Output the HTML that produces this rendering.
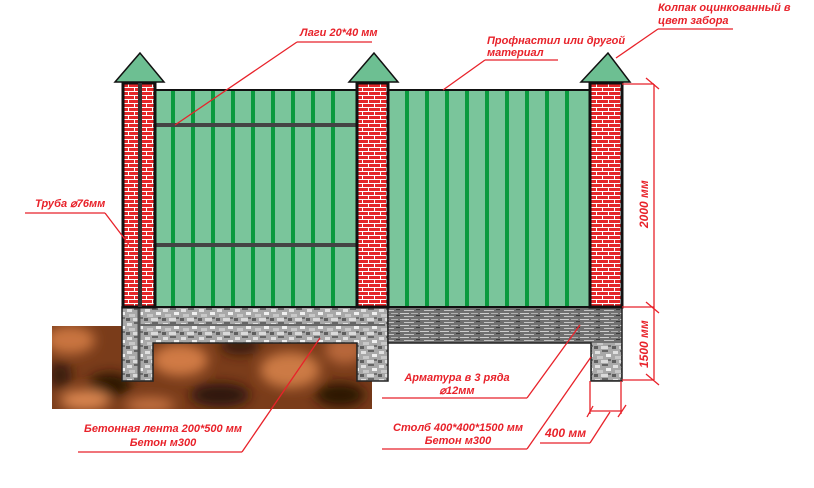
<!DOCTYPE html>
<html><head><meta charset="utf-8"><style>
html,body{margin:0;padding:0;background:#fff;width:814px;height:488px;overflow:hidden}
text{font-family:"Liberation Sans",sans-serif;font-style:italic;font-weight:bold;fill:#e8222a;font-size:11px}
</style></head><body>
<svg width="814" height="488" viewBox="0 0 814 488" xmlns="http://www.w3.org/2000/svg">
<defs>
<pattern id="brick" width="12" height="8" patternUnits="userSpaceOnUse">
<rect width="12" height="8" fill="#e4282a"/>
<rect y="3" width="12" height="1" fill="#fff"/>
<rect y="7" width="12" height="1" fill="#fff"/>
<rect x="2" y="0" width="1" height="3" fill="#fff"/>
<rect x="8" y="4" width="1" height="3" fill="#fff"/>
</pattern>
<pattern id="conc" width="18" height="14" patternUnits="userSpaceOnUse">
<rect width="18" height="14" fill="#a8a8a8"/>
<rect x="1" y="1" width="5" height="3" fill="#e0e0e0"/>
<rect x="8" y="0" width="6" height="2" fill="#666"/>
<rect x="12" y="4" width="5" height="3" fill="#efefef"/>
<rect x="3" y="6" width="6" height="3" fill="#c8c8c8"/>
<rect x="0" y="10" width="4" height="3" fill="#5e5e5e"/>
<rect x="7" y="10" width="7" height="3" fill="#dadada"/>
<rect x="14" y="9" width="3" height="2" fill="#707070"/>
</pattern>
<pattern id="conc2" width="20" height="6" patternUnits="userSpaceOnUse">
<rect width="20" height="6" fill="#707070"/>
<rect x="0" y="1" width="9" height="1" fill="#cfcfcf"/>
<rect x="11" y="1" width="7" height="1" fill="#b0b0b0"/>
<rect x="4" y="4" width="10" height="1" fill="#c4c4c4"/>
<rect x="16" y="3" width="4" height="1" fill="#3a3a3a"/>
</pattern>
<filter id="blur" x="-10%" y="-10%" width="120%" height="120%"><feGaussianBlur stdDeviation="6"/></filter>
<clipPath id="sc"><rect x="52" y="326" width="320" height="83"/></clipPath>
</defs>

<!-- soil -->
<rect x="52" y="326" width="320" height="83" fill="#7a3c1a"/>
<g clip-path="url(#sc)" filter="url(#blur)">
<ellipse cx="70" cy="340" rx="25" ry="14" fill="#c9743f"/>
<ellipse cx="110" cy="385" rx="22" ry="12" fill="#2a1206"/>
<ellipse cx="85" cy="400" rx="25" ry="10" fill="#d98550"/>
<ellipse cx="180" cy="360" rx="28" ry="16" fill="#d07a44"/>
<ellipse cx="220" cy="395" rx="30" ry="12" fill="#2e1408"/>
<ellipse cx="240" cy="345" rx="20" ry="10" fill="#3a1a0a"/>
<ellipse cx="290" cy="370" rx="30" ry="18" fill="#cc7a45"/>
<ellipse cx="340" cy="395" rx="25" ry="12" fill="#2a1206"/>
<ellipse cx="345" cy="350" rx="20" ry="14" fill="#b8683a"/>
<ellipse cx="150" cy="405" rx="25" ry="8" fill="#c27040"/>
<ellipse cx="60" cy="375" rx="12" ry="14" fill="#3a1a0a"/>
</g>

<!-- concrete strip left -->
<path d="M122 307 H388 V381 H357 V343 H153 V381 H122 Z" fill="url(#conc)" stroke="#222" stroke-width="1.5"/>
<line x1="139" y1="307" x2="139" y2="380" stroke="#555" stroke-width="3"/>
<line x1="140" y1="325" x2="385" y2="325" stroke="#666" stroke-width="2"/>
<!-- band right -->
<path d="M388 307 H622 V381 H591 V343 H388 Z" fill="url(#conc2)" stroke="#222" stroke-width="1.5"/>
<rect x="592" y="343" width="29" height="37" fill="url(#conc)"/>

<!-- panels -->
<rect x="155" y="90" width="202" height="217" fill="#7ac59b" stroke="#111" stroke-width="2"/>
<rect x="388" y="90" width="202" height="217" fill="#7ac59b" stroke="#111" stroke-width="2"/>
<g stroke="#0a9a3e" stroke-width="4">
<line x1="173" y1="91" x2="173" y2="306"/><line x1="193" y1="91" x2="193" y2="306"/><line x1="213" y1="91" x2="213" y2="306"/><line x1="233" y1="91" x2="233" y2="306"/><line x1="253" y1="91" x2="253" y2="306"/><line x1="273" y1="91" x2="273" y2="306"/><line x1="293" y1="91" x2="293" y2="306"/><line x1="313" y1="91" x2="313" y2="306"/><line x1="333" y1="91" x2="333" y2="306"/>
<line x1="407" y1="91" x2="407" y2="306"/><line x1="427" y1="91" x2="427" y2="306"/><line x1="447" y1="91" x2="447" y2="306"/><line x1="467" y1="91" x2="467" y2="306"/><line x1="487" y1="91" x2="487" y2="306"/><line x1="507" y1="91" x2="507" y2="306"/><line x1="527" y1="91" x2="527" y2="306"/><line x1="547" y1="91" x2="547" y2="306"/><line x1="567" y1="91" x2="567" y2="306"/>
</g>
<rect x="140" y="123" width="217" height="4" fill="#444"/>
<rect x="140" y="243" width="217" height="4" fill="#444"/>

<!-- pillars -->
<rect x="123" y="83" width="32" height="224" fill="url(#brick)" stroke="#111" stroke-width="3"/>
<rect x="138" y="83" width="4" height="224" fill="#333"/>
<rect x="357" y="83" width="31" height="224" fill="url(#brick)" stroke="#111" stroke-width="3"/>
<rect x="590" y="83" width="32" height="224" fill="url(#brick)" stroke="#111" stroke-width="3"/>

<!-- caps -->
<polygon points="140,53 115,82 164,82" fill="#6dbf92" stroke="#111" stroke-width="1.5"/>
<polygon points="374,53 349,82 398,82" fill="#6dbf92" stroke="#111" stroke-width="1.5"/>
<polygon points="608,53 581,82 630,82" fill="#6dbf92" stroke="#111" stroke-width="1.5"/>

<g stroke="#e8222a" stroke-width="1.3" fill="none">
<line x1="622" y1="84" x2="654" y2="84"/>
<line x1="654" y1="84" x2="654" y2="380"/>
<line x1="646" y1="78" x2="659" y2="89"/>
<line x1="622" y1="307" x2="654" y2="307"/>
<line x1="646" y1="302" x2="659" y2="313"/>
<line x1="622" y1="380" x2="654" y2="380"/>
<line x1="646" y1="374" x2="659" y2="385"/>
<line x1="590" y1="381" x2="590" y2="414"/>
<line x1="621" y1="381" x2="621" y2="414"/>
<line x1="590" y1="411" x2="621" y2="411"/>
<line x1="587" y1="417" x2="593" y2="406"/>
<line x1="618" y1="417" x2="626" y2="405"/>
<line x1="540" y1="443" x2="590" y2="443"/>
<line x1="590" y1="443" x2="610" y2="412"/>
<line x1="297" y1="42" x2="372" y2="42"/><line x1="297" y1="42" x2="175" y2="125"/>
<line x1="25" y1="213" x2="105" y2="213"/><line x1="105" y1="213" x2="130" y2="246"/>
<line x1="485" y1="60" x2="558" y2="60"/><line x1="485" y1="60" x2="443" y2="90"/>
<line x1="658" y1="29" x2="733" y2="29"/><line x1="658" y1="29" x2="616" y2="58"/>
<line x1="78" y1="452" x2="242" y2="452"/><line x1="242" y1="452" x2="320" y2="338"/>
<line x1="382" y1="398" x2="527" y2="398"/><line x1="527" y1="398" x2="580" y2="325"/>
<line x1="382" y1="449" x2="527" y2="449"/><line x1="527" y1="449" x2="591" y2="357"/>
</g>

<text x="300" y="36">Лаги 20*40 мм</text>
<text x="35" y="207">Труба ⌀76мм</text>
<text x="487" y="44">Профнастил или другой</text>
<text x="487" y="56">материал</text>
<text x="658" y="11">Колпак оцинкованный в</text>
<text x="658" y="24">цвет забора</text>
<text x="163" y="432" text-anchor="middle">Бетонная лента 200*500 мм</text>
<text x="163" y="446" text-anchor="middle">Бетон м300</text>
<text x="457" y="381" text-anchor="middle">Арматура в 3 ряда</text>
<text x="457" y="394" text-anchor="middle">⌀12мм</text>
<text x="458" y="431" text-anchor="middle">Столб 400*400*1500 мм</text>
<text x="458" y="444" text-anchor="middle">Бетон м300</text>
<text x="545" y="437" style="font-size:12px">400 мм</text>
<text transform="translate(648,228) rotate(-90)" style="font-size:12px">2000 мм</text>
<text transform="translate(648,368) rotate(-90)" style="font-size:12px">1500 мм</text>
</svg>
</body></html>
